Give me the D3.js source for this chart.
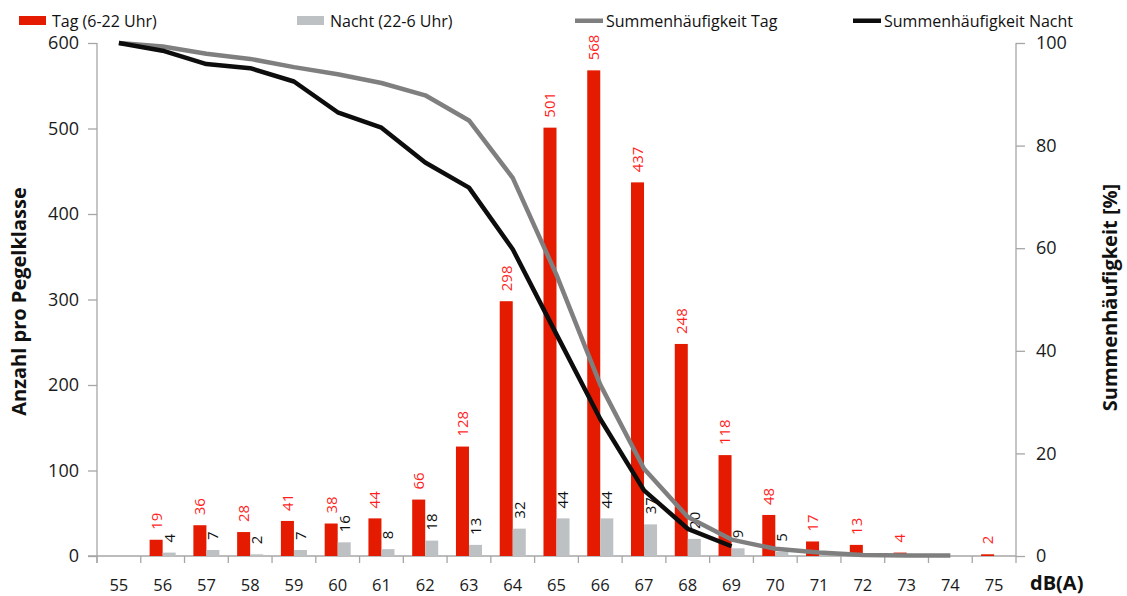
<!DOCTYPE html>
<html>
<head>
<meta charset="utf-8">
<script src="https://cdn.jsdelivr.net/npm/d3@7"></script>
<style>
  body { margin: 0; background: #fff; }
  text { font-family: "Open Sans", "Liberation Sans", sans-serif; }
</style>
</head>
<body>
<div id="chart"></div>
<script>
// classes in dB(A)
const classes = ["55","56","57","58","59","60","61","62","63","64","65","66","67","68","69","70","71","72","73","74","75"];
// counts per class
const tagCounts   = [null,19,36,28,41,38,44,66,128,298,501,568,437,248,118,48,17,13,4,null,2];
const nachtCounts = [null,4,7,2,7,16,8,18,13,32,44,44,37,20,9,5,null,null,null,null,null];
// cumulative frequency in %
const tagCum   = [100,99.3,97.9,96.9,95.3,93.9,92.2,89.8,84.9,73.7,54.8,33.4,17.0,7.6,3.2,1.4,0.7,0.2,0.1,0.1,null];
const nachtCum = [100,98.5,95.9,95.1,92.5,86.5,83.5,76.7,71.8,59.8,43.2,26.7,12.8,5.3,1.9,null,null,null,null,null,null];
const leftTicks  = [0,100,200,300,400,500,600];
const rightTicks = [0,20,40,60,80,100];

const W = 1127, H = 596;
const margin = {top: 43, right: 111, bottom: 40, left: 97};
const width = W - margin.left - margin.right,
      height = H - margin.top - margin.bottom;

const colTag = "#e41b00", colNacht = "#bdc1c3",
      colLineTag = "#7f7f7f", colLineNacht = "#0d0d0d", axisCol = "#a6a6a6";

const svg = d3.select("#chart").append("svg")
  .attr("width", W).attr("height", H);
const g = svg.append("g")
  .attr("transform", `translate(${margin.left},${margin.top})`);

// scales
const x = d3.scaleBand().domain(classes).range([0, width]).padding(0);
const x1 = d3.scaleBand().domain(["tag","nacht"]).range([0, x.bandwidth()])
  .paddingInner(0).paddingOuter(0.68);
const y = d3.scaleLinear().domain([0, 600]).range([height, 0]);
const y2 = d3.scaleLinear().domain([0, 100]).range([height, 0]);

const rows = classes.map((c, i) => ({c, tag: tagCounts[i], nacht: nachtCounts[i], tc: tagCum[i], nc: nachtCum[i]}));

// X axis
const xAxis = g.append("g").attr("transform", `translate(0,${height})`);
xAxis.append("line").attr("x1", -9).attr("x2", width).attr("stroke", axisCol).attr("stroke-width", 1.3);
xAxis.selectAll(".xt").data(d3.range(classes.length + 1)).join("line")
  .attr("x1", i => i * x.step()).attr("x2", i => i * x.step())
  .attr("y1", 0).attr("y2", 7).attr("stroke", axisCol).attr("stroke-width", 1.3);
xAxis.selectAll(".xl").data(classes).join("text")
  .attr("x", d => x(d) + x.bandwidth() / 2).attr("y", 35)
  .attr("text-anchor", "middle").attr("font-size", 16.5).attr("fill", "#1a1a1a")
  .text(d => d);

// left Y axis
const yAxis = d3.axisLeft(y).tickValues(leftTicks).tickSize(9).tickPadding(9);
g.append("g").call(yAxis)
  .call(a => a.select(".domain").attr("stroke", axisCol).attr("stroke-width", 1.3).attr("d", `M0,0V${height + 7}`))
  .call(a => a.selectAll(".tick line").attr("stroke", axisCol).attr("stroke-width", 1.3))
  .call(a => a.selectAll("text").attr("font-size", 18).attr("fill", "#1a1a1a")
    .attr("font-family", "'Open Sans', sans-serif"));

// right Y axis
const y2Axis = d3.axisRight(y2).tickValues(rightTicks).tickSize(9).tickPadding(11);
g.append("g").attr("transform", `translate(${width},0)`).call(y2Axis)
  .call(a => a.select(".domain").attr("stroke", axisCol).attr("stroke-width", 1.3).attr("d", `M0,0V${height}`))
  .call(a => a.selectAll(".tick line").attr("stroke", axisCol).attr("stroke-width", 1.3))
  .call(a => a.selectAll("text").attr("font-size", 18).attr("fill", "#1a1a1a")
    .attr("font-family", "'Open Sans', sans-serif"));

// bars
g.selectAll(".barTag").data(rows.filter(d => d.tag != null)).join("rect")
  .attr("x", d => x(d.c) + x1("tag")).attr("y", d => y(d.tag))
  .attr("width", x1.bandwidth()).attr("height", d => height - y(d.tag))
  .attr("fill", colTag);
g.selectAll(".barNacht").data(rows.filter(d => d.nacht != null)).join("rect")
  .attr("x", d => x(d.c) + x1("nacht")).attr("y", d => y(d.nacht))
  .attr("width", x1.bandwidth()).attr("height", d => height - y(d.nacht))
  .attr("fill", colNacht);

// value labels (rotated)
function labels(key, sub, color) {
  g.selectAll(".lab" + key).data(rows.filter(d => d[key] != null)).join("text")
    .attr("transform", d => `translate(${x(d.c) + x1(sub) + x1.bandwidth() / 2},${y(d[key]) - 10}) rotate(-90)`)
    .attr("dy", "0.36em").attr("font-size", 15).attr("fill", color)
    .text(d => d[key]);
}
labels("tag", "tag", "#ff1f1f");
labels("nacht", "nacht", "#111");

// cumulative lines
const cx = d => x(d.c) + x.bandwidth() / 2;
const lineTag = d3.line().defined(d => d.tc != null).x(cx).y(d => y2(d.tc));
const lineNacht = d3.line().defined(d => d.nc != null).x(cx).y(d => y2(d.nc));
g.append("path").datum(rows).attr("d", lineTag)
  .attr("fill", "none").attr("stroke", colLineTag).attr("stroke-width", 4.5).attr("stroke-linejoin", "round");
g.append("path").datum(rows).attr("d", lineNacht)
  .attr("fill", "none").attr("stroke", colLineNacht).attr("stroke-width", 4.5).attr("stroke-linejoin", "round");

// axis titles
svg.append("text").attr("transform", `translate(26,${margin.top + height / 2 + 2}) rotate(-90)`)
  .attr("text-anchor", "middle").attr("font-size", 20).attr("font-weight", "bold").attr("fill", "#111")
  .text("Anzahl pro Pegelklasse");
svg.append("text").attr("transform", `translate(1117,${margin.top + height / 2 - 2}) rotate(-90)`)
  .attr("text-anchor", "middle").attr("font-size", 20).attr("font-weight", "bold").attr("fill", "#111")
  .text("Summenhäufigkeit [%]");
svg.append("text").attr("x", 1030).attr("y", 590)
  .attr("font-size", 20).attr("font-weight", "bold").attr("fill", "#111")
  .text("dB(A)");

// legend
const legend = [
  {name: "Tag (6-22 Uhr)", type: "rect", color: colTag, x: 19},
  {name: "Nacht (22-6 Uhr)", type: "rect", color: colNacht, x: 297},
  {name: "Summenhäufigkeit Tag", type: "line", color: colLineTag, x: 575},
  {name: "Summenhäufigkeit Nacht", type: "line", color: colLineNacht, x: 853}
];
const lg = svg.append("g").selectAll("g").data(legend).join("g")
  .attr("transform", d => `translate(${d.x},0)`);
lg.filter(d => d.type === "rect").append("rect")
  .attr("x", 0).attr("y", 16).attr("width", 27).attr("height", 9).attr("fill", d => d.color);
lg.filter(d => d.type === "line").append("rect")
  .attr("x", 0).attr("y", 18.5).attr("width", 28).attr("height", 4.5).attr("fill", d => d.color);
lg.append("text").attr("x", d => d.type === "rect" ? 33 : 31).attr("y", 26.5)
  .attr("font-size", 16).attr("fill", "#111").text(d => d.name);
</script>
</body>
</html>
